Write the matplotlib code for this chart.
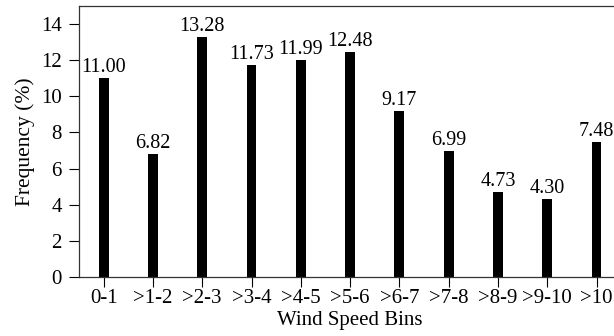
import matplotlib.pyplot as plt

# Wind speed frequency distribution
bins = ['0-1', '>1-2', '>2-3', '>3-4', '>4-5', '>5-6', '>6-7', '>7-8', '>8-9', '>9-10', '>10']
frequency = [11.00, 6.82, 13.28, 11.73, 11.99, 12.48, 9.17, 6.99, 4.73, 4.30, 7.48]

plt.rcParams['font.family'] = ['Liberation Serif', 'DejaVu Serif']
plt.rcParams['font.size'] = 14

fig = plt.figure(figsize=(6.14, 3.36), dpi=100)
ax = fig.add_axes([0.1287, 0.1756, 0.883, 0.8065])

x = range(len(bins))
ax.bar(x, frequency, width=0.2, color='black')
for i, v in zip(x, frequency):
    ax.text(i, v + 0.05, f'{v:.2f}', ha='center', va='bottom', fontsize=14.5)

ax.set_xlim(-0.5, 10.5)
ax.set_ylim(0, 15)
ax.set_yticks(range(0, 15, 2))
ax.set_xticks(list(x))
ax.set_xticklabels(bins)
ax.tick_params(direction='out', length=7.5, width=0.8, labelsize=15)
ax.tick_params(axis='x', pad=1)
ax.tick_params(axis='y', pad=5)
for s in ax.spines.values():
    s.set_linewidth(0.9)
    s.set_color('#333333')
ax.set_xlabel('Wind Speed Bins', fontsize=15, labelpad=2)
ax.set_ylabel('Frequency (%)', fontsize=15.5, labelpad=4)

fig.savefig('out.png', dpi=100)
